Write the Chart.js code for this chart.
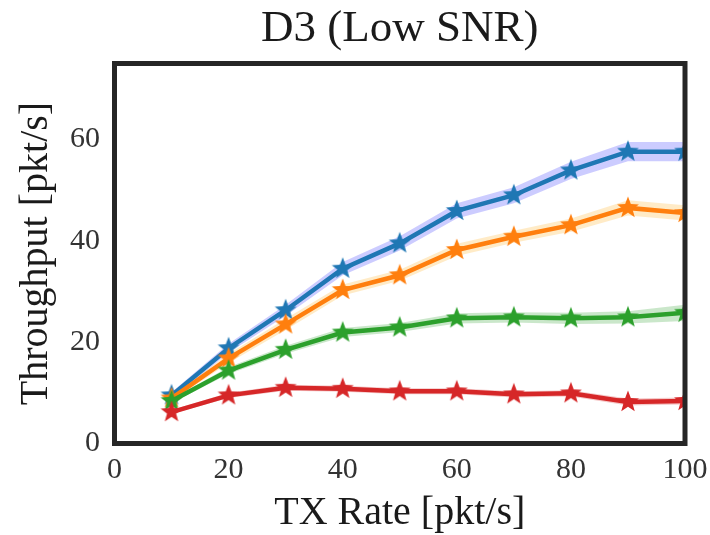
<!DOCTYPE html>
<html>
<head>
<meta charset="utf-8">
<script src="https://cdn.jsdelivr.net/npm/chart.js@4.4.1/dist/chart.umd.min.js"></script>
<style>
html, body { margin: 0; padding: 0; background: #fff; }
</style>
</head>
<body>
<canvas id="chart" width="710" height="535"></canvas>
<script>
// values
const txRate = [10, 20, 30, 40, 50, 60, 70, 80, 90, 100];
const blueVals = [9.5, 18.8, 26.3, 34.5, 39.5, 45.9, 49.0, 53.9, 57.6, 57.6];
const orangeVals = [8.9, 16.8, 23.5, 30.3, 33.2, 38.2, 40.8, 43.1, 46.5, 45.5];
const greenVals = [8.4, 14.4, 18.5, 21.9, 22.9, 24.7, 24.9, 24.7, 24.9, 25.8];
const redVals = [6.2, 9.5, 11.0, 10.8, 10.3, 10.3, 9.7, 9.9, 8.2, 8.4];
// half width of the shaded band around each line
const blueErr = [0.6, 0.9, 1.1, 1.3, 1.4, 1.5, 1.6, 1.7, 1.9, 1.9];
const orangeErr = [0.5, 0.9, 1.1, 1.1, 1.1, 1.2, 1.2, 1.3, 1.5, 1.5];
const greenErr = [0.4, 0.7, 0.8, 0.9, 0.9, 1.0, 1.0, 1.1, 1.2, 1.6];
const redErr = [0.4, 0.5, 0.6, 0.6, 0.6, 0.6, 0.6, 0.6, 0.7, 0.7];
const xTicks = [0, 20, 40, 60, 80, 100];
const yTicks = [0, 20, 40, 60];

const series = [
    { vals: blueVals, err: blueErr, color: '#1f77b4', band: 'rgba(0,0,255,0.2)', order: 4 },
    { vals: orangeVals, err: orangeErr, color: '#ff7f0e', band: 'rgba(255,165,0,0.22)', order: 3 },
    { vals: greenVals, err: greenErr, color: '#2ca02c', band: 'rgba(44,160,44,0.25)', order: 2 },
    { vals: redVals, err: redErr, color: '#d62728', band: 'rgba(214,39,40,0.25)', order: 1 }
];

function makeStar(color) {
    const c = document.createElement('canvas');
    c.width = 26;
    c.height = 26;
    const g = c.getContext('2d');
    g.fillStyle = color;
    g.beginPath();
    for (let i = 0; i < 10; i++) {
        const r = i % 2 ? 4.8 : 11.5;
        const a = -Math.PI / 2 + i * Math.PI / 5;
        g.lineTo(13 + r * Math.cos(a), 13 + r * Math.sin(a));
    }
    g.closePath();
    g.fill();
    return c;
}

function points(vals, shift) {
    return txRate.map((x, i) => ({ x: x, y: vals[i] + (shift ? shift[i] : 0) }));
}

const datasets = [];
series.forEach(s => {
    const neg = s.err.map(e => -e);
    datasets.push({
        data: points(s.vals, neg), borderWidth: 0, pointRadius: 0,
        fill: false, order: 10, clip: 0
    });
    datasets.push({
        data: points(s.vals, s.err), borderWidth: 0, pointRadius: 0,
        fill: '-1', backgroundColor: s.band, order: 10, clip: 0
    });
});
series.forEach(s => {
    datasets.push({
        data: points(s.vals), borderColor: s.color, borderWidth: 4.5,
        pointStyle: makeStar(s.color), pointRadius: 10,
        fill: false, order: s.order, clip: 0, tension: 0
    });
});

const framePlugin = {
    id: 'frame',
    afterDraw(chart) {
        const a = chart.chartArea;
        const ctx = chart.ctx;
        ctx.save();
        ctx.strokeStyle = '#262626';
        ctx.lineWidth = 5;
        ctx.strokeRect(a.left, a.top, a.right - a.left, a.bottom - a.top);
        ctx.restore();
    }
};

const serif = 'Liberation Serif, Times New Roman, serif';
new Chart(document.getElementById('chart'), {
    type: 'line',
    data: { datasets: datasets },
    plugins: [framePlugin],
    options: {
        responsive: false,
        animation: false,
        layout: { padding: { left: 0, right: 25, top: 0, bottom: 0 } },
        plugins: {
            legend: { display: false },
            tooltip: { enabled: false },
            title: {
                display: true,
                text: 'D3 (Low SNR)',
                color: '#1a1a1a',
                fullSize: false,
                font: { family: serif, size: 45, weight: 'normal', lineHeight: 1.2 },
                padding: { top: 2, bottom: 7.5 }
            }
        },
        scales: {
            x: {
                type: 'linear',
                min: 0,
                max: 100,
                grid: { display: false, drawTicks: false },
                border: { display: false },
                afterBuildTicks: scale => { scale.ticks = xTicks.map(v => ({ value: v })); },
                afterFit: scale => {
                    scale.height = 91.5;
                    scale.paddingLeft = 0;
                    scale.paddingRight = 0;
                },
                ticks: {
                    color: '#333',
                    padding: 8.5,
                    maxRotation: 0,
                    font: { family: serif, size: 30 }
                },
                title: {
                    display: true,
                    text: 'TX Rate [pkt/s]',
                    color: '#1a1a1a',
                    font: { family: serif, size: 40, lineHeight: 1.0 },
                    padding: { top: 0, bottom: 1.5 }
                }
            },
            y: {
                min: 0,
                max: 75,
                grid: { display: false, drawTicks: false },
                border: { display: false },
                afterBuildTicks: scale => { scale.ticks = yTicks.map(v => ({ value: v })); },
                afterFit: scale => {
                    scale.width = 114.5;
                    scale.paddingTop = 0;
                    scale.paddingBottom = 0;
                },
                ticks: {
                    color: '#333',
                    padding: 14.5,
                    font: { family: serif, size: 30 }
                },
                title: {
                    display: true,
                    text: 'Throughput [pkt/s]',
                    color: '#1a1a1a',
                    font: { family: serif, size: 40, lineHeight: 1.2 },
                    padding: { top: 12, bottom: 0 }
                }
            }
        }
    }
});
</script>
</body>
</html>
